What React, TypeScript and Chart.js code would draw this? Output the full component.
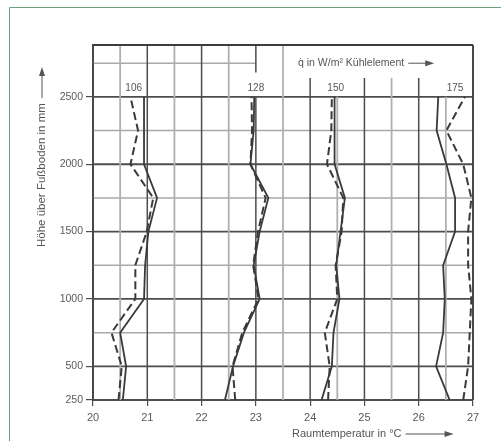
import React, { useEffect, useRef } from "react";
import { Chart, registerables } from "chart.js";

Chart.register(...registerables);

// Heights above floor (mm)
const heights = [250, 500, 750, 1000, 1250, 1500, 1750, 2000, 2250, 2500];

// Room temperatures (°C) per cooling load; solid and dashed profiles
const solid106 = [20.55, 20.61, 20.5, 20.94, 20.96, 21.02, 21.18, 20.94, 20.94, 20.94];
const dashed106 = [20.47, 20.53, 20.34, 20.78, 20.78, 20.99, 21.11, 20.69, 20.83, 20.69];
const solid128 = [22.43, 22.58, 22.78, 23.07, 22.96, 23.07, 23.23, 22.9, 22.96, 22.97];
const dashed128 = [22.62, 22.57, 22.75, 23.05, 22.95, 23.04, 23.18, 22.9, 22.93, 22.92];
const solid150 = [24.21, 24.4, 24.43, 24.54, 24.48, 24.56, 24.64, 24.45, 24.45, 24.45];
const dashed150 = [24.33, 24.36, 24.27, 24.5, 24.47, 24.58, 24.61, 24.31, 24.39, 24.4];
const solid175 = [26.57, 26.32, 26.45, 26.48, 26.45, 26.67, 26.67, 26.51, 26.33, 26.36];
const dashed175 = [26.82, 26.91, 26.94, 26.97, 26.91, 26.91, 26.97, 26.82, 26.51, 26.85];

// Axis ticks
const xTickValues = [20, 21, 22, 23, 24, 25, 26, 27];
const yTickValues = [250, 500, 1000, 1500, 2000, 2500];
const gridYValues = [250, 500, 750, 1000, 1250, 1500, 1750, 2000, 2250, 2500, 2750];
const gridXValues = [20, 20.5, 21, 21.5, 22, 22.5, 23, 23.5, 24, 24.5, 25, 25.5, 26, 26.5, 27];

// Cooling load labels (W/m²) and their horizontal anchors (°C)
const loadLabels = ["106", "128", "150", "175"];
const loadLabelX = [20.75, 23.0, 24.47, 26.67];

const xTitle = "Raumtemperatur in °C";
const yTitle = "Höhe über Fußboden in mm";
const loadTitle = "q\u0307 in W/m² Kühlelement";

const FONT = "'Liberation Sans', Arial, sans-serif";
const LINE = "#3a3a3a";

function toPoints(xs: number[]) {
  return xs.map((v, i) => ({ x: v, y: heights[i] }));
}

function arrowRight(ctx: CanvasRenderingContext2D, x0: number, y: number, len: number) {
  ctx.beginPath();
  ctx.moveTo(x0, y);
  ctx.lineTo(x0 + len - 8, y);
  ctx.stroke();
  ctx.beginPath();
  ctx.moveTo(x0 + len, y);
  ctx.lineTo(x0 + len - 9, y - 3);
  ctx.lineTo(x0 + len - 9, y + 3);
  ctx.closePath();
  ctx.fill();
}

const framePlugin = {
  id: "frame",
  beforeDraw(chart: any) {
    const { ctx, width, height } = chart;
    ctx.save();
    ctx.fillStyle = "#ffffff";
    ctx.fillRect(0, 0, width, height);
    ctx.strokeStyle = "#6f9f78";
    ctx.lineWidth = 1;
    ctx.beginPath();
    ctx.moveTo(9.5, height);
    ctx.lineTo(9.5, 7.5);
    ctx.lineTo(width, 7.5);
    ctx.stroke();
    ctx.restore();
  },
  beforeDatasetsDraw(chart: any) {
    const { ctx, chartArea, scales } = chart;
    const { left, right, top } = chartArea;
    const xs = scales.x;
    const ys = scales.y;
    ctx.save();
    // horizontal grid
    gridYValues.forEach((v) => {
      const py = ys.getPixelForValue(v);
      const major = v % 500 === 0 || v === 250;
      ctx.strokeStyle = major ? "#4d4d4d" : "#a9a9a9";
      ctx.lineWidth = major ? 1.8 : 1.5;
      const xEnd = v > 2500 ? xs.getPixelForValue(23) : right;
      ctx.beginPath();
      ctx.moveTo(left, py);
      ctx.lineTo(xEnd, py);
      ctx.stroke();
    });
    // vertical grid
    const yBottom = ys.getPixelForValue(250);
    const y2500 = ys.getPixelForValue(2500);
    gridXValues.forEach((v) => {
      const px = xs.getPixelForValue(v);
      const major = Number.isInteger(v);
      ctx.strokeStyle = major ? "#4d4d4d" : "#b0b0b0";
      ctx.lineWidth = major ? 1.5 : 1.8;
      const segs: [number, number][] = [];
      if (v === 23) {
        segs.push([yBottom, y2500]);
        segs.push([ys.getPixelForValue(2680), top]);
      } else if (v === 24.5 || v === 26.5) {
        segs.push([yBottom, y2500]);
      } else if (v >= 24 && v < 27) {
        segs.push([yBottom, ys.getPixelForValue(2640)]);
      } else {
        segs.push([yBottom, top]);
      }
      segs.forEach(([a, b]) => {
        ctx.beginPath();
        ctx.moveTo(px, a);
        ctx.lineTo(px, b);
        ctx.stroke();
      });
    });
    // top and right frame
    ctx.strokeStyle = "#3d3d3d";
    ctx.lineWidth = 2.2;
    ctx.beginPath();
    ctx.moveTo(left, top);
    ctx.lineTo(right, top);
    ctx.stroke();
    ctx.lineWidth = 1.6;
    ctx.beginPath();
    ctx.moveTo(right, top);
    ctx.lineTo(right, yBottom);
    ctx.stroke();
    ctx.restore();
  },
  afterDraw(chart: any) {
    const { ctx, scales } = chart;
    const xs = scales.x;
    const ys = scales.y;
    ctx.save();
    ctx.fillStyle = "#555555";
    ctx.strokeStyle = "#555555";
    ctx.lineWidth = 1;
    ctx.textBaseline = "middle";
    // load labels
    ctx.font = `10px ${FONT}`;
    ctx.textAlign = "center";
    loadLabels.forEach((t, i) => {
      ctx.fillText(t, xs.getPixelForValue(loadLabelX[i]), ys.getPixelForValue(2565));
    });
    // load title
    ctx.font = `10.5px ${FONT}`;
    ctx.textAlign = "left";
    const ly = ys.getPixelForValue(2750);
    ctx.fillText(loadTitle, 298, ly);
    const lw = ctx.measureText(loadTitle).width;
    arrowRight(ctx, 298 + lw + 4, ly, 26);
    // x title
    ctx.font = `11px ${FONT}`;
    const xw = ctx.measureText(xTitle).width;
    ctx.fillText(xTitle, 292, 434);
    arrowRight(ctx, 292 + xw + 4, 434, 48);
    // y title
    ctx.translate(42, 247);
    ctx.rotate(-Math.PI / 2);
    ctx.font = `11.5px ${FONT}`;
    const yw = ctx.measureText(yTitle).width;
    ctx.fillText(yTitle, 0, 0);
    arrowRight(ctx, yw + 5, 0, 175 - yw);
    ctx.restore();
  },
};

export default function App() {
  const ref = useRef<HTMLCanvasElement>(null);
  useEffect(() => {
    if (!ref.current) return;
    const mk = (data: number[], dashed: boolean) => ({
      data: toPoints(data),
      borderColor: LINE,
      borderWidth: dashed ? 2 : 1.8,
      borderDash: dashed ? [8, 4] : [],
      pointRadius: 0,
      fill: false,
      tension: 0,
    });
    const chart = new Chart(ref.current, {
      type: "line",
      data: {
        datasets: [
          mk(solid106, false),
          mk(dashed106, true),
          mk(solid128, false),
          mk(dashed128, true),
          mk(solid150, false),
          mk(dashed150, true),
          mk(solid175, false),
          mk(dashed175, true),
        ],
      },
      options: {
        animation: false,
        responsive: false,
        layout: { padding: { left: 0, top: 45, right: 28, bottom: 0 } },
        plugins: { legend: { display: false }, tooltip: { enabled: false } },
        scales: {
          x: {
            type: "linear",
            min: 20,
            max: 27,
            afterFit: (s: any) => {
              s.height = 41;
            },
            afterBuildTicks: (s: any) => {
              s.ticks = xTickValues.map((v) => ({ value: v }));
            },
            ticks: {
              color: "#5a5a5a",
              font: { family: FONT, size: 11 },
              padding: 5,
              maxRotation: 0,
              autoSkip: false,
              callback: (v: any) => String(v),
            },
            grid: { drawOnChartArea: false, drawTicks: true, tickLength: 6, color: "#4d4d4d", lineWidth: 1.2 },
            border: { display: true, color: "#3d3d3d", width: 2 },
          },
          y: {
            type: "linear",
            min: 250,
            max: 2885,
            afterFit: (s: any) => {
              s.width = 93;
            },
            afterBuildTicks: (s: any) => {
              s.ticks = yTickValues.map((v) => ({ value: v }));
            },
            ticks: {
              color: "#5a5a5a",
              font: { family: FONT, size: 10.5 },
              padding: 3,
              autoSkip: false,
              callback: (v: any) => String(v),
            },
            grid: { drawOnChartArea: false, drawTicks: true, tickLength: 7, color: "#4d4d4d", lineWidth: 1.2 },
            border: { display: true, color: "#3d3d3d", width: 2 },
          },
        },
      },
      plugins: [framePlugin],
    } as any);
    return () => chart.destroy();
  }, []);
  return (
    <div style={{ position: "fixed", left: 0, top: 0, width: 501, height: 441 }}>
      <canvas ref={ref} width={501} height={441} />
    </div>
  );
}
